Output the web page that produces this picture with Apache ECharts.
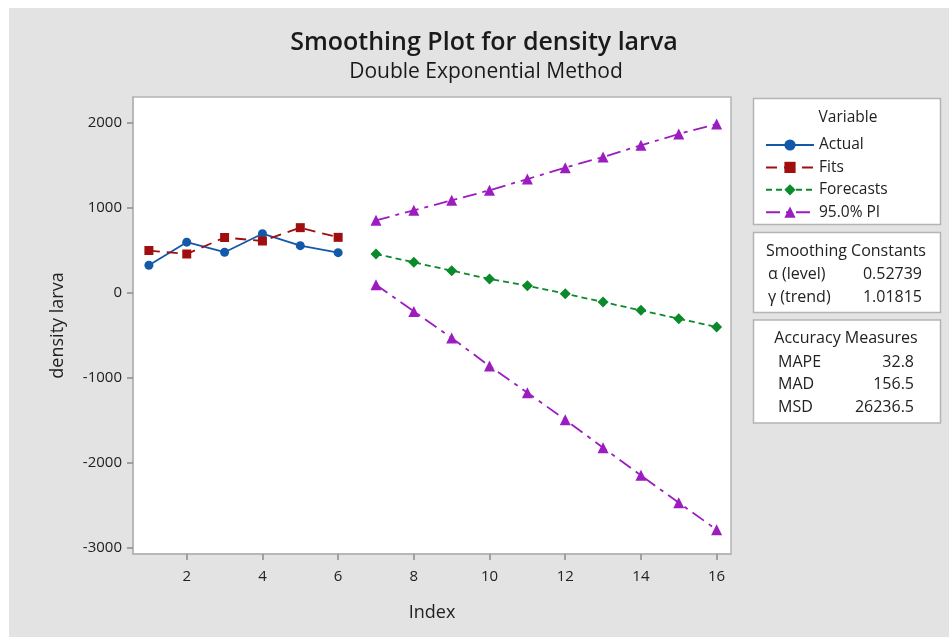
<!DOCTYPE html>
<html><head><meta charset="utf-8">
<script src="https://cdn.jsdelivr.net/npm/echarts@6/dist/echarts.min.js"></script>
<style>html,body{margin:0;padding:0;background:#fff;width:949px;height:637px;overflow:hidden}
#c{position:absolute;left:9px;top:8px;width:940px;height:629px;}</style>
</head><body><div id="c"></div>
<script>
// ---- data ----
const actualIndex = [1, 2, 3, 4, 5, 6];
const actual = [323, 594, 476, 694, 553, 471];
const fits = [496, 455, 649, 608, 765, 651];
const forecastIndex = [7, 8, 9, 10, 11, 12, 13, 14, 15, 16];
const forecasts = [455, 357, 259, 161, 82, -12, -110, -208, -306, -404];
const upperPI = [851, 969, 1086, 1204, 1337, 1471, 1596, 1733, 1867, 1984];
const lowerPI = [94, -220, -533, -863, -1176, -1494, -1824, -2149, -2471, -2788];
const xTicks = [2, 4, 6, 8, 10, 12, 14, 16];
const yTicks = [-3000, -2000, -1000, 0, 1000, 2000];
const smoothingLabels = ['\u03b1 (level)', '\u03b3 (trend)'];
const smoothingValues = ['0.52739', '1.01815'];
const accuracyLabels = ['MAPE', 'MAD', 'MSD'];
const accuracyValues = ['32.8', '156.5', '26236.5'];

const FONT = 'Open Sans';
const pair = (xs, ys) => xs.map((x, i) => [x, ys[i]]);
const C = {actual: '#1359aa', fits: '#a00f0f', fc: '#0a8a2a', pi: '#9c1cc0'};

const chart = echarts.init(document.getElementById('c'), null, {renderer: 'canvas'});

const g = [];
// titles
g.push({type: 'text', x: 475, y: 35, z: 10, style: {text: 'Smoothing Plot for density larva', font: '600 25px "' + FONT + '"', fill: '#1a1a1a', align: 'center', verticalAlign: 'middle'}});
g.push({type: 'text', x: 477, y: 64, z: 10, style: {text: 'Double Exponential Method', font: '21px "' + FONT + '"', fill: '#1a1a1a', align: 'center', verticalAlign: 'middle'}});
// boxes
const boxStyle = {fill: '#fff', stroke: '#b4b4b4', lineWidth: 1.5};
g.push({type: 'rect', z: 1, shape: {x: 744.5, y: 90.5, width: 187, height: 126}, style: boxStyle});
g.push({type: 'rect', z: 1, shape: {x: 744.5, y: 224.5, width: 187, height: 80}, style: boxStyle});
g.push({type: 'rect', z: 1, shape: {x: 744.5, y: 312, width: 187, height: 103}, style: boxStyle});
const tf = '16px "' + FONT + '"';
g.push({type: 'text', x: 839, y: 110, z: 10, style: {text: 'Variable', font: '15.5px "' + FONT + '"', fill: '#222', align: 'center', verticalAlign: 'middle'}});
g.push({type: 'text', x: 837, y: 243, z: 10, style: {text: 'Smoothing Constants', font: tf, fill: '#222', align: 'center', verticalAlign: 'middle'}});
smoothingLabels.forEach((t, i) => {
  g.push({type: 'text', x: 759, y: 266 + i * 23, z: 10, style: {text: t, font: tf, fill: '#222', align: 'left', verticalAlign: 'middle'}});
  g.push({type: 'text', x: 913, y: 266 + i * 23, z: 10, style: {text: smoothingValues[i], font: tf, fill: '#222', align: 'right', verticalAlign: 'middle'}});
});
g.push({type: 'text', x: 837, y: 330, z: 10, style: {text: 'Accuracy Measures', font: tf, fill: '#222', align: 'center', verticalAlign: 'middle'}});
accuracyLabels.forEach((t, i) => {
  g.push({type: 'text', x: 769, y: 354 + i * 22.5, z: 10, style: {text: t, font: tf, fill: '#222', align: 'left', verticalAlign: 'middle'}});
  g.push({type: 'text', x: 905, y: 354 + i * 22.5, z: 10, style: {text: accuracyValues[i], font: tf, fill: '#222', align: 'right', verticalAlign: 'middle'}});
});

const option = {
  backgroundColor: '#e3e3e3',
  animation: false,
  textStyle: {fontFamily: FONT},
  grid: {left: 124, top: 89, right: 218, bottom: 83, show: true, backgroundColor: '#fff', borderColor: '#b4b4b4', borderWidth: 1.5, containLabel: false},
  legend: {
    orient: 'vertical', left: 751, top: 124, itemWidth: 48, itemHeight: 14, itemGap: 6.4,
    data: ['Actual', 'Fits', 'Forecasts', '95.0% PI'],
    textStyle: {fontSize: 15.5, color: '#222', fontFamily: FONT, padding: [0, 0, 0, 0]},
    z: 8
  },
  xAxis: {
    type: 'value', min: 0.58, max: 16.38,
    name: 'Index', nameLocation: 'middle', nameGap: 50,
    nameTextStyle: {fontSize: 18, color: '#222', fontFamily: FONT},
    axisLine: {show: true, onZero: false, lineStyle: {color: '#b4b4b4', width: 1.5}},
    axisTick: {show: true, inside: false, length: 6, lineStyle: {color: '#8c8c8c', width: 1.5}, customValues: xTicks},
    axisLabel: {fontSize: 15, color: '#222', margin: 15, customValues: xTicks},
    splitLine: {show: false}
  },
  yAxis: {
    type: 'value', min: -3074, max: 2302,
    name: 'density larva', nameLocation: 'middle', nameGap: 66, nameRotate: 90,
    nameTextStyle: {fontSize: 18, color: '#222', fontFamily: FONT},
    axisLine: {show: true, onZero: false, lineStyle: {color: '#b4b4b4', width: 1.5}},
    axisTick: {show: true, inside: false, length: 6, lineStyle: {color: '#8c8c8c', width: 1.5}, customValues: yTicks},
    axisLabel: {fontSize: 15, color: '#222', margin: 11, customValues: yTicks, formatter: v => String(v)},
    splitLine: {show: false}
  },
  series: [
    {name: 'Actual', type: 'line', data: pair(actualIndex, actual), symbol: 'circle', symbolSize: 9,
     itemStyle: {color: C.actual}, lineStyle: {color: C.actual, width: 1.8, type: 'solid'}},
    {name: 'Fits', type: 'line', data: pair(actualIndex, fits), symbol: 'rect', symbolSize: 9,
     itemStyle: {color: C.fits}, lineStyle: {color: C.fits, width: 1.8, type: [11, 7]}},
    {name: 'Forecasts', type: 'line', data: pair(forecastIndex, forecasts), symbol: 'diamond', symbolSize: 11,
     itemStyle: {color: C.fc}, lineStyle: {color: C.fc, width: 1.8, type: [6, 4]}},
    {name: '95.0% PI', type: 'line', data: pair(forecastIndex, upperPI), symbol: 'triangle', symbolSize: 11,
     itemStyle: {color: C.pi}, lineStyle: {color: C.pi, width: 1.8, type: [14, 6, 4, 6]}},
    {name: '95.0% PI', type: 'line', data: pair(forecastIndex, lowerPI), symbol: 'triangle', symbolSize: 11,
     itemStyle: {color: C.pi}, lineStyle: {color: C.pi, width: 1.8, type: [14, 6, 4, 6]}}
  ],
  graphic: {elements: g}
};
chart.setOption(option);
</script></body></html>
